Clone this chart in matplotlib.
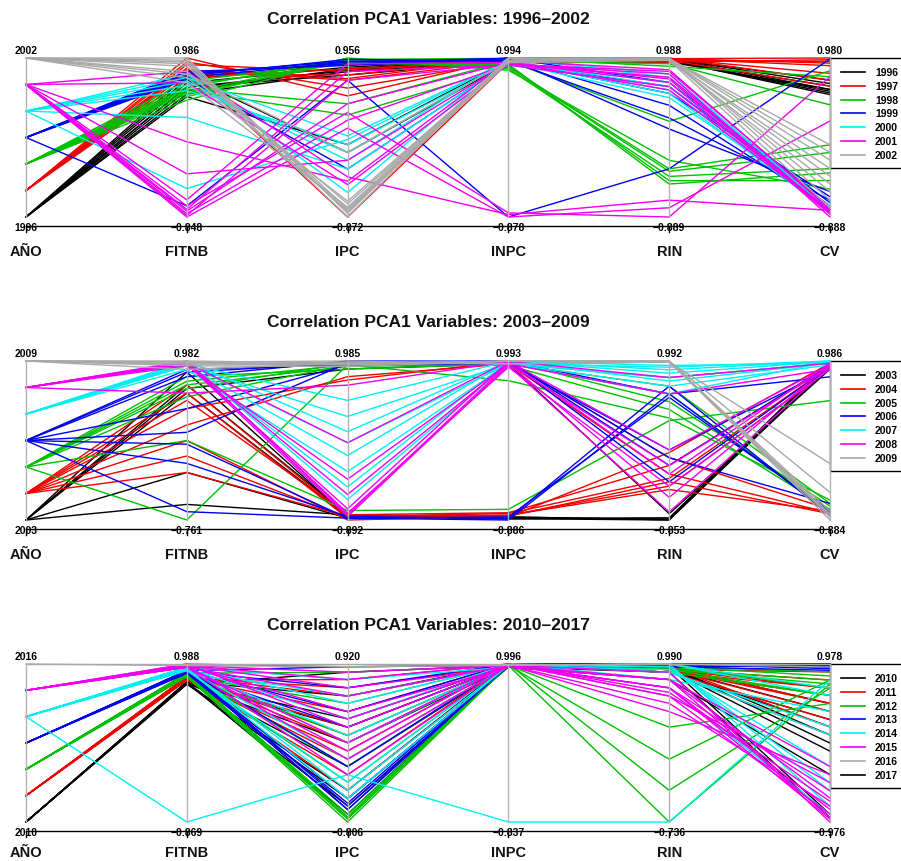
import numpy as np
import matplotlib
matplotlib.use('Agg')
import matplotlib.pyplot as plt

plt.rcParams['font.family'] = ['Liberation Sans', 'DejaVu Sans']

variables = ['AÑO', 'FITNB', 'IPC', 'INPC', 'RIN', 'CV']
palette = ['#000000', '#f00000', '#00c000', '#0000f0', '#00f0f0', '#f000f0', '#a8a8a8']

# correlation rows per year: FITNB, IPC, INPC, RIN, CV
r1996 = [[0.57, 0.80, 0.96, 0.96, 0.57], [0.61, 0.83, 0.99, 0.98, 0.61],
         [0.65, 0.76, 0.96, 0.96, 0.59], [0.70, 0.85, 0.99, 0.96, 0.65],
         [0.74, 0.89, 0.96, 0.98, 0.68], [0.78, -0.13, 0.94, 0.94, 0.61],
         [0.54, -0.04, 0.96, 0.96, 0.55], [0.65, 0.81, 0.99, 0.98, 0.72]]
r1997 = [[0.80, 0.76, 0.99, 0.98, 0.92], [0.85, 0.70, 0.96, 0.98, 0.89],
         [0.91, 0.80, 0.99, 0.96, 0.94], [0.94, 0.61, 0.96, 0.98, 0.80],
         [0.986, 0.52, 0.99, 0.988, 0.72], [0.76, 0.83, 0.96, 0.96, 0.65],
         [0.87, -0.872, 0.94, 0.94, 0.96], [0.83, 0.72, 0.99, 0.98, 0.980]]
r1998 = [[0.50, 0.94, 0.89, -0.35, -0.13], [0.54, 0.956, 0.87, -0.41, -0.32],
         [0.57, 0.92, 0.91, -0.46, -0.46], [0.61, 0.30, 0.89, -0.32, -0.04],
         [0.65, 0.95, 0.85, -0.22, -0.56], [0.68, 0.89, 0.92, -0.50, -0.37],
         [0.72, 0.91, 0.96, 0.92, 0.43], [0.59, 0.94, 0.99, 0.89, 0.76],
         [0.63, 0.43, 0.96, 0.24, 0.83]]
r1999 = [[0.76, 0.91, 0.99, 0.70, -0.72], [0.80, 0.92, 0.96, 0.57, -0.65],
         [0.81, 0.89, 0.99, 0.43, -0.78], [0.78, 0.94, 0.96, 0.28, -0.69],
         [0.83, 0.87, 0.99, 0.15, -0.59], [-0.72, 0.70, -0.878, -0.32, 0.97],
         [0.74, -0.32, 0.94, 0.65, -0.76]]
r2000 = [[0.61, -0.04, 0.94, 0.70, -0.80], [0.67, -0.13, 0.96, 0.61, -0.81],
         [0.72, -0.22, 0.99, 0.76, -0.78], [0.76, 0.06, 0.96, 0.57, -0.83],
         [0.30, -0.32, 0.94, 0.52, -0.76], [-0.52, 0.02, 0.96, 0.65, -0.80],
         [0.80, -0.59, 0.99, 0.80, -0.81]]
r2001 = [[-0.81, 0.24, 0.92, 0.76, -0.83], [-0.78, 0.43, 0.94, 0.70, -0.85],
         [-0.83, 0.70, 0.92, 0.80, -0.888], [-0.76, 0.80, 0.91, 0.65, -0.81],
         [-0.848, 0.15, -0.878, -0.78, 0.24], [-0.72, 0.33, -0.83, -0.889, 0.76],
         [-0.65, 0.89, 0.94, 0.61, -0.83], [0.83, -0.41, -0.85, -0.69, -0.81],
         [0.70, -0.50, 0.92, 0.83, -0.78], [-0.35, -0.22, 0.94, 0.74, -0.85],
         [0.02, -0.46, 0.96, 0.85, -0.80]]
r2002 = [[0.986, -0.83, 0.994, 0.988, -0.69], [0.96, -0.78, 0.96, 0.98, -0.59],
         [0.92, -0.87, 0.99, 0.96, -0.50], [0.89, -0.72, 0.96, 0.98, -0.41],
         [0.83, -0.80, 0.99, 0.96, -0.32], [0.76, -0.69, 0.96, 0.98, -0.22],
         [0.70, -0.76, 0.99, 0.98, -0.04], [0.94, -0.81, 0.94, 0.96, -0.78],
         [0.80, -0.13, 0.96, 0.98, -0.13]]

r2003 = [[0.63, -0.85, -0.87, -0.853, 0.96], [0.72, -0.83, -0.85, -0.85, 0.94],
         [0.86, -0.85, -0.87, -0.83, 0.986], [-0.24, -0.87, -0.85, -0.85, 0.92],
         [-0.59, -0.83, -0.87, -0.83, 0.96], [0.68, 0.89, 0.96, -0.78, 0.89]]
r2004 = [[0.63, -0.87, -0.83, -0.46, 0.89], [0.72, -0.85, -0.81, -0.37, 0.92],
         [0.55, -0.83, -0.80, -0.22, 0.94], [-0.06, -0.87, -0.85, -0.07, 0.96],
         [-0.24, -0.85, -0.83, -0.50, -0.78], [0.28, 0.80, 0.96, -0.32, -0.80],
         [0.46, 0.76, 0.99, -0.13, -0.76], [0.11, -0.892, -0.84, -0.41, -0.81]]
r2005 = [[0.72, 0.92, 0.96, 0.61, -0.78], [0.76, 0.94, 0.99, 0.52, -0.72],
         [0.81, 0.89, 0.96, 0.70, -0.69], [0.68, 0.96, 0.94, 0.43, -0.76],
         [-0.761, 0.94, 0.76, 0.33, -0.65], [0.11, -0.78, -0.76, 0.30, 0.52],
         [0.59, 0.94, 0.96, 0.80, 0.96]]
r2006 = [[0.81, 0.985, 0.99, -0.41, 0.92], [0.86, 0.96, 0.993, -0.22, 0.94],
         [0.89, 0.94, 0.96, -0.04, 0.89], [0.20, 0.96, 0.99, 0.61, 0.80],
         [0.07, -0.87, -0.886, 0.61, -0.80], [-0.14, -0.85, -0.87, 0.70, -0.83],
         [-0.67, -0.87, -0.85, 0.57, -0.78], [0.46, 0.94, 0.99, -0.13, -0.69]]
r2007 = [[0.95, 0.52, 0.99, 0.89, 0.986], [0.93, 0.33, 0.96, 0.80, 0.96],
         [0.982, 0.15, 0.99, 0.85, 0.98], [0.95, 0.02, 0.96, 0.70, 0.94],
         [0.93, -0.13, 0.99, 0.76, 0.96], [0.89, -0.32, 0.96, 0.61, 0.98],
         [0.95, -0.50, 0.99, 0.94, 0.96], [0.97, -0.65, 0.96, 0.92, 0.986]]
r2008 = [[0.95, -0.85, 0.94, -0.76, 0.92], [0.982, -0.83, 0.96, -0.59, 0.94],
         [0.97, -0.81, 0.92, -0.46, 0.89], [0.95, -0.76, 0.99, -0.32, 0.96],
         [0.93, -0.41, 0.96, -0.22, 0.92], [0.96, 0.02, 0.99, -0.04, 0.94],
         [0.63, 0.70, 0.99, 0.80, 0.96], [0.97, -0.59, 0.96, 0.61, 0.89]]
r2009 = [[0.982, 0.96, 0.99, 0.992, -0.884], [0.95, 0.94, 0.993, 0.99, -0.85],
         [0.97, 0.985, 0.96, 0.98, -0.81], [0.93, 0.92, 0.99, 0.99, -0.78],
         [0.89, 0.96, 0.96, 0.98, -0.83], [0.97, 0.94, 0.99, 0.99, -0.56],
         [0.95, 0.96, 0.99, 0.98, -0.22]]

r2010 = [[0.77, -0.55, 0.98, 0.90, -0.92], [0.75, -0.46, 0.996, 0.96, -0.88],
         [0.78, -0.20, 0.98, 0.93, 0.20], [0.76, 0.06, 0.96, 0.90, 0.29],
         [0.77, 0.32, 0.98, 0.96, 0.10], [0.78, 0.57, 0.996, 0.94, 0.39],
         [0.75, 0.83, 0.98, 0.96, 0.49], [0.76, -0.63, 0.96, 0.82, -0.39],
         [0.76, 0.23, 0.98, 0.93, -0.10], [0.77, -0.72, 0.996, 0.96, 0.00]]
r2011 = [[0.80, -0.29, 0.996, 0.93, 0.68], [0.82, -0.12, 0.98, 0.90, 0.59],
         [0.84, 0.06, 0.996, 0.96, 0.49], [0.80, 0.23, 0.98, 0.93, 0.39],
         [0.82, 0.40, 0.996, 0.90, 0.29], [0.84, 0.57, 0.98, 0.96, 0.20],
         [0.80, 0.75, 0.996, 0.93, 0.78], [0.82, -0.46, 0.98, 0.90, 0.10],
         [0.82, 0.66, 0.98, 0.93, 0.88], [0.80, -0.03, 0.996, 0.90, 0.68],
         [0.84, 0.14, 0.98, 0.93, 0.49]]
r2012 = [[0.84, -0.806, 0.98, 0.96, 0.68], [0.86, -0.77, 0.98, 0.93, 0.78],
         [0.88, -0.75, 0.996, 0.90, 0.59], [0.86, -0.72, 0.98, 0.30, 0.49],
         [0.84, -0.77, 0.98, -0.05, 0.78], [0.88, -0.37, 0.996, -0.39, 0.68],
         [0.86, 0.14, 0.98, -0.736, 0.73], [0.84, 0.49, 0.996, 0.96, 0.88],
         [0.88, 0.83, 0.98, 0.93, 0.59], [0.86, -0.77, 0.98, 0.96, 0.83],
         [0.88, -0.20, 0.996, 0.93, 0.73]]
r2013 = [[0.90, -0.67, 0.996, 0.99, 0.978], [0.91, -0.63, 0.98, 0.98, 0.94],
         [0.88, -0.60, 0.996, 0.99, 0.96], [0.90, -0.55, 0.98, 0.96, 0.90],
         [0.91, -0.20, 0.996, 0.99, 0.94], [0.88, 0.23, 0.98, 0.98, 0.978],
         [0.90, 0.66, 0.996, 0.99, 0.92], [0.91, 0.89, 0.98, 0.96, 0.96],
         [0.90, -0.67, 0.98, 0.99, 0.94], [0.91, 0.40, 0.996, 0.98, 0.96]]
r2014 = [[-0.869, -0.29, -0.837, -0.736, 0.78], [0.93, -0.12, 0.98, 0.99, -0.78],
         [0.91, -0.37, 0.996, 0.96, -0.59], [0.95, 0.06, 0.98, 0.90, 0.10],
         [0.93, 0.32, 0.996, 0.82, 0.39], [0.91, 0.57, 0.98, 0.99, 0.59],
         [0.95, 0.75, 0.96, 0.93, -0.29], [0.93, -0.55, 0.98, 0.73, -0.88],
         [0.93, 0.14, 0.98, 0.96, -0.49], [0.95, 0.49, 0.996, 0.90, 0.20],
         [0.93, -0.46, 0.98, 0.99, 0.68]]
r2015 = [[0.97, -0.12, 0.98, 0.73, -0.94], [0.95, 0.06, 0.996, 0.64, -0.88],
         [0.988, 0.23, 0.98, 0.56, -0.78], [0.97, 0.40, 0.96, 0.82, -0.68],
         [0.95, 0.57, 0.98, 0.73, -0.59], [0.97, 0.75, 0.996, 0.64, -0.49],
         [0.988, 0.89, 0.98, 0.90, -0.976], [0.95, -0.29, 0.98, 0.47, -0.39],
         [0.97, 0.66, 0.96, 0.82, -0.92], [0.97, 0.32, 0.98, 0.73, -0.82],
         [0.95, -0.03, 0.996, 0.68, -0.72], [0.97, 0.83, 0.98, 0.82, -0.29]]
r2016 = [[0.988, 0.92, 0.996, 0.99, 0.978], [0.97, 0.89, 0.98, 0.99, 0.94]]
r2017 = []

years_a = [1996, 1997, 1998, 1999, 2000, 2001, 2002]
years_b = [2003, 2004, 2005, 2006, 2007, 2008, 2009]
years_c = [2010, 2011, 2012, 2013, 2014, 2015, 2016, 2017]
rows_a = [r1996, r1997, r1998, r1999, r2000, r2001, r2002]
rows_b = [r2003, r2004, r2005, r2006, r2007, r2008, r2009]
rows_c = [r2010, r2011, r2012, r2013, r2014, r2015, r2016, r2017]
colors_c = palette + ['#000000']

W, H = 901, 862
X0, X1 = 26, 830

fig = plt.figure(figsize=(W / 100, H / 100), dpi=100)


def fmt(v, first):
    if first:
        return '%d' % round(v)
    return ('%.3f' % v).replace('-', '\u2212')


def parcoord(top, bottom, years, blocks, cols, name_gap=34):
    ax = fig.add_axes([X0 / W, 1 - bottom / H, (X1 - X0) / W, (bottom - top) / H])
    ax.set_xlim(0, 5)
    ax.set_ylim(0, 1)
    ax.axis('off')
    py = float(bottom - top)      # pixels per unit in y
    px = (X1 - X0) / 5.0          # pixels per unit in x

    data, rc = [], []
    for yr, blk, c in zip(years, blocks, cols):
        for r in blk:
            data.append([yr] + list(r))
            rc.append(c)
    data = np.array(data, float)
    lo, hi = data.min(0), data.max(0)
    sc = (data - lo) / (hi - lo)

    xs = np.arange(len(variables))
    for row, c in zip(sc, rc):
        ax.plot(xs, row, color=c, lw=1.0, clip_on=False)
    for i in xs:
        ax.plot([i, i], [0, 1], color='#b3b3b3', lw=1.0, clip_on=False)

    # axis line with ticks and variable names
    yl = -8.7 / py
    ax.plot([0, 5], [yl, yl], color='black', lw=1.0, clip_on=False)
    for i, name in enumerate(variables):
        ax.plot([i, i], [yl, yl - 6 / py], color='black', lw=1.0, clip_on=False)
        ax.text(i, 1 + 8 / py, fmt(hi[i], i == 0), ha='center', va='center',
                fontsize=7.5, fontweight='bold')
        ax.text(i, -10.3 / py, fmt(lo[i], i == 0), ha='center', va='center',
                fontsize=7.5, fontweight='bold')
        ax.text(i, -name_gap / py, name, ha='center', va='center', fontsize=10.5,
                fontweight='bold', color='#111111')

    ax.text(2.5, 1 + 39 / py, 'Correlation PCA1 Variables: %d\u2013%d' % (years[0], years[-1]),
            ha='center', va='center', fontsize=12.5, fontweight='bold', color='#111111')

    # legend box hanging off the right edge
    n = len(years)
    first = 1 - 14 / py
    step = 13.8 / py
    box_bottom = first - (n - 1) * step - 13 / py
    ax.add_patch(plt.Rectangle((5, box_bottom), 100 / px, 1 - box_bottom, fill=False,
                               ec='black', lw=1.0, clip_on=False))
    for k, (yr, c) in enumerate(zip(years, cols)):
        yy = first - k * step
        ax.plot([5 + 11 / px, 5 + 35 / px], [yy, yy], color=c, lw=1.2, clip_on=False)
        ax.text(5 + 45 / px, yy, str(yr), ha='left', va='center', fontsize=7.5,
                fontweight='bold')


parcoord(59, 218, years_a, rows_a, palette)
parcoord(362, 521, years_b, rows_b, palette)
parcoord(665, 823, years_c, rows_c, colors_c, name_gap=30)

fig.savefig('out.png', dpi=100)
